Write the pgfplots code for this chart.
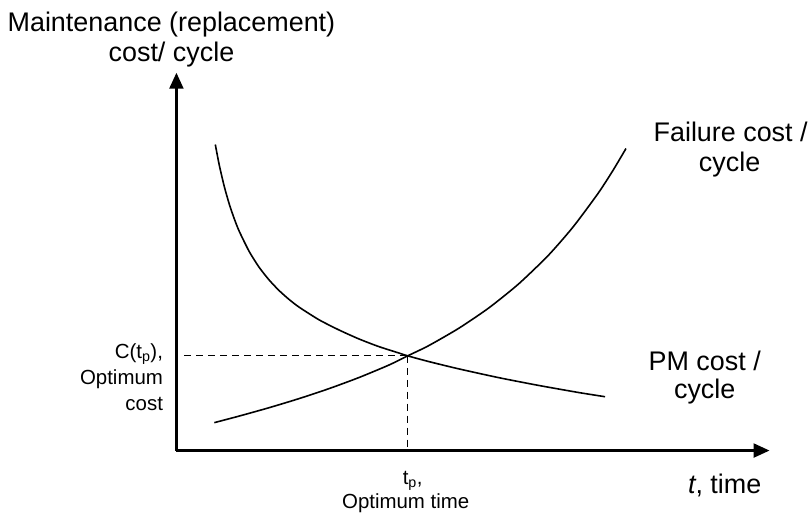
\documentclass[border=0pt]{standalone}
\usepackage{pgfplots}
\pgfplotsset{compat=1.18}
\usepackage{fontspec}
\setmainfont{Liberation Sans}
\usetikzlibrary{arrows.meta}
\begin{document}
\begin{tikzpicture}
\begin{axis}[
  scale only axis,
  width=595pt, height=379pt,
  xmin=177, xmax=772, ymin=61, ymax=440,
  axis lines=left,
  axis line style={line width=2.4pt, -{Triangle[length=16pt,width=14pt]}},
  xtick=\empty, ytick=\empty,
  clip=false,
]
% invisible frame for the picture size
\path (axis cs:0,0) rectangle (axis cs:811,513);
% PM cost / cycle
\addplot[black, line width=1.6pt, smooth, tension=0.4] coordinates {
 (216,368.0) (220,347.3) (225,325.9) (230,308.3) (235,293.6) (240,281.0)
 (250,260.7) (260,244.8) (270,232.1) (280,221.5) (290,212.6) (300,204.9)
 (320,192.2) (340,182.0) (360,173.0) (380,165.3) (400,158.9) (409,156.0)
 (430,150.3) (460,143.0) (500,134.2) (540,126.4) (580,119.3) (607,115.0)
};
% Failure cost / cycle
\addplot[black, line width=1.6pt, smooth, tension=0.4] coordinates {
 (215,89.0) (240,95.6) (270,104.0) (300,113.1) (330,123.1) (360,134.2)
 (390,146.7) (409,156.0) (430,166.2) (460,183.5) (490,203.8) (520,227.9)
 (550,256.7) (575,285.4) (600,319.0) (615,342.1) (628,364.0)
};
% optimum markers
\addplot[black, line width=1.2pt, dash pattern=on 7pt off 5pt] coordinates {(185,156) (409,156)};
\addplot[black, line width=1.2pt, dash pattern=on 7pt off 5pt] coordinates {(409,156) (409,61)};
% texts
\node[font=\fontsize{27}{32}\selectfont] at (axis cs:172,488) {Maintenance (replacement)};
\node[font=\fontsize{27}{32}\selectfont] at (axis cs:172,458) {cost/ cycle};
\node[font=\fontsize{27}{32}\selectfont] at (axis cs:733,381) {Failure cost /};
\node[font=\fontsize{27}{32}\selectfont] at (axis cs:732,348) {cycle};
\node[font=\fontsize{27}{32}\selectfont] at (axis cs:707,151) {PM cost /};
\node[font=\fontsize{27}{32}\selectfont] at (axis cs:707,120) {cycle};
\node[font=\fontsize{27}{32}\selectfont] at (axis cs:727,26) {\textit{t}, time};
\node[font=\fontsize{20.5}{24}\selectfont, anchor=east] at (axis cs:167,158) {C(t\textsubscript{p}),};
\node[font=\fontsize{20.5}{24}\selectfont, anchor=east] at (axis cs:167,133) {Optimum};
\node[font=\fontsize{20.5}{24}\selectfont, anchor=east] at (axis cs:167,108) {cost};
\node[font=\fontsize{20.5}{24}\selectfont] at (axis cs:414,31) {t\textsubscript{p},};
\node[font=\fontsize{20.5}{24}\selectfont] at (axis cs:407,8) {Optimum time};
\end{axis}
\end{tikzpicture}
\end{document}
